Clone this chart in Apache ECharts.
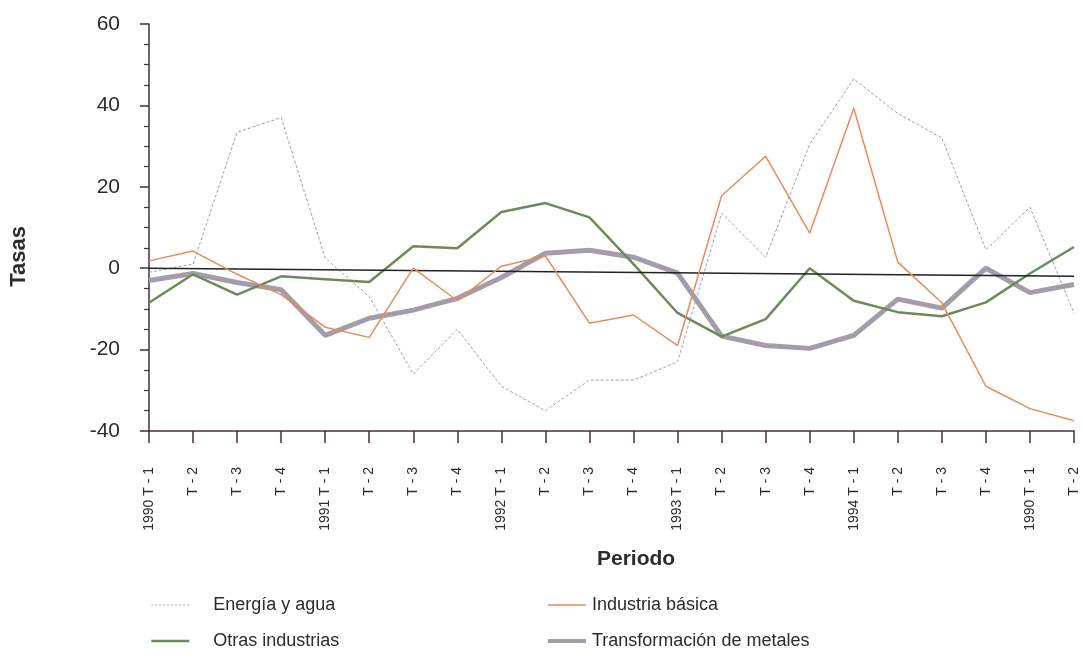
<!DOCTYPE html>
<html>
<head>
<meta charset="utf-8">
<script src="https://cdn.jsdelivr.net/npm/echarts@6/dist/echarts.min.js"></script>
<style>
  html, body { margin: 0; padding: 0; background: #fff; }
  #chart { width: 1083px; height: 660px; }
</style>
</head>
<body>
<div id="chart"></div>
<script>
// periodos (trimestres)
var periodos = ['1990 T - 1', 'T - 2', 'T - 3', 'T - 4',
                '1991 T - 1', 'T - 2', 'T - 3', 'T - 4',
                '1992 T - 1', 'T - 2', 'T - 3', 'T - 4',
                '1993 T - 1', 'T - 2', 'T - 3', 'T - 4',
                '1994 T - 1', 'T - 2', 'T - 3', 'T - 4',
                '1990 T - 1', 'T - 2'];

var energiaAgua = [-1, 1, 33.4, 37, 2.5, -7, -26, -15, -29, -35, -27.5, -27.5,
                   -23, 13.5, 2.7, 30.5, 46.5, 38, 32, 4.5, 15, -11];
var industriaBasica = [1.8, 4.2, -1.5, -6.5, -14.5, -17, 0, -8, 0.5, 3, -13.5, -11.5,
                       -19, 17.8, 27.5, 8.6, 39.3, 1.5, -8.5, -29, -34.5, -37.5];
var otrasIndustrias = [-8.5, -1.5, -6.5, -2, -2.7, -3.4, 5.4, 4.9, 13.8, 16, 12.5, 1,
                       -11, -16.8, -12.5, 0, -8, -10.8, -11.8, -8.4, -1.3, 5.2];
var transfMetales = [-3, -1.3, -3.5, -5.3, -16.5, -12.3, -10.3, -7.4, -2.3, 3.7, 4.4, 2.7,
                     -1.2, -16.7, -19, -19.7, -16.5, -7.6, -9.8, 0, -6, -4];

var chart = echarts.init(document.getElementById('chart'));

var txt = '#2b2b2b';
var axisCol = '#4a2c38';
var fuente = 'Liberation Sans, Arial, sans-serif';

var option = {
    backgroundColor: '#fff',
    animation: false,
    textStyle: { fontFamily: fuente },
    grid: { left: 149, right: 9, top: 24, bottom: 229 },
    xAxis: {
        type: 'category',
        data: periodos,
        boundaryGap: false,
        axisLine: { onZero: false, lineStyle: { color: axisCol, width: 1.5 } },
        axisTick: { show: true, length: 12, alignWithLabel: true, lineStyle: { color: axisCol, width: 1.5 } },
        axisLabel: {
            rotate: 90, interval: 0, margin: 36,
            color: txt, fontSize: 14
        },
        splitLine: { show: false }
    },
    yAxis: {
        type: 'value',
        min: -40, max: 60, interval: 20,
        axisLine: { show: true, lineStyle: { color: axisCol, width: 1.5 } },
        axisTick: { show: true, length: 9, lineStyle: { color: axisCol, width: 1.5 } },
        minorTick: { show: true, splitNumber: 4, length: 5, lineStyle: { color: axisCol, width: 1.2 } },
        axisLabel: { color: txt, fontSize: 21, margin: 29 },
        splitLine: { show: false }
    },
    legend: [{
        left: 145, top: 591, orient: 'vertical', itemGap: 18,
        itemWidth: 38, itemHeight: 14,
        itemStyle: { opacity: 0 },
        textStyle: { fontSize: 18, color: txt, padding: [0, 0, 0, 19] },
        data: [
            { name: 'Energía y agua', lineStyle: { width: 1, type: [2, 2], color: '#aab2c4' } },
            { name: 'Otras industrias', lineStyle: { width: 2.5 } }
        ]
    }, {
        left: 541, top: 591, orient: 'vertical', itemGap: 18,
        itemWidth: 38, itemHeight: 14,
        itemStyle: { opacity: 0 },
        textStyle: { fontSize: 18, color: txt, padding: [0, 0, 0, 1] },
        data: [
            { name: 'Industria básica', lineStyle: { width: 1.5 } },
            { name: 'Transformación de metales', lineStyle: { width: 4 } }
        ]
    }],
    graphic: [{
        type: 'text', left: 8, top: 226, rotation: Math.PI / 2,
        style: { text: 'Tasas', fontSize: 22, fontWeight: 'bold', fill: txt, fontFamily: fuente }
    }, {
        type: 'text', left: 597, top: 549,
        style: { text: 'Periodo', fontSize: 21, fontWeight: 'bold', fill: txt, fontFamily: fuente }
    }],
    series: [{
        name: 'Energía y agua', type: 'line', data: energiaAgua,
        symbol: 'none', z: 2,
        lineStyle: { color: '#98a2b8', width: 1, type: [3, 2] },
        itemStyle: { color: '#98a2b8' }
    }, {
        name: 'Transformación de metales', type: 'line', data: transfMetales,
        symbol: 'none', z: 3,
        lineStyle: { color: '#a49ca8', width: 5 },
        itemStyle: { color: '#a49ca8' }
    }, {
        name: 'Otras industrias', type: 'line', data: otrasIndustrias,
        symbol: 'none', z: 4,
        lineStyle: { color: '#6d8b58', width: 2.5 },
        itemStyle: { color: '#6d8b58' }
    }, {
        name: 'Industria básica', type: 'line', data: industriaBasica,
        symbol: 'none', z: 5,
        lineStyle: { color: '#e98a5c', width: 1.5 },
        itemStyle: { color: '#e98a5c' },
        markLine: {
            silent: true, symbol: 'none', label: { show: false },
            lineStyle: { color: '#222', width: 1.5, type: 'solid' },
            data: [[{ coord: [0, 0] }, { coord: [21, -2] }]]
        }
    }]
};

chart.setOption(option);
</script>
</body>
</html>
